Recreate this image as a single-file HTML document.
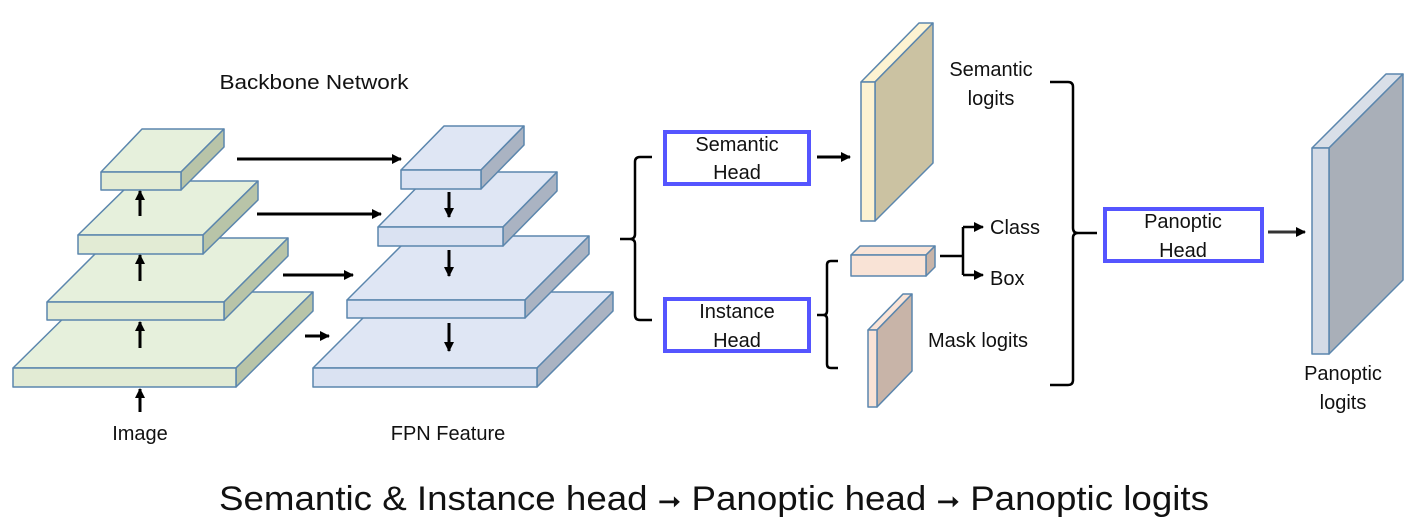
<!DOCTYPE html>
<html><head><meta charset="utf-8"><style>
html,body{margin:0;padding:0;background:#fff;}
svg{display:block;}
text{font-family:"Liberation Sans",sans-serif;fill:#111;}
.c{font-family:"DejaVu Sans","Liberation Sans",sans-serif;}
</style></head><body>
<svg width="1427" height="527" viewBox="0 0 1427 527" xmlns="http://www.w3.org/2000/svg">
<defs>
<marker id="ah" markerWidth="10" markerHeight="10" refX="9" refY="5" orient="auto" markerUnits="userSpaceOnUse">
<path d="M0,0 L10,5 L0,10 z" fill="#000"/></marker>
</defs>
<g stroke="#5b86ad" stroke-width="1.5" stroke-linejoin="round">
<g>
<polygon points="13,368 90,292 313,292 236,368" fill="#e6f0dc"/>
<polygon points="236,368 313,292 313,311 236,387" fill="#b8c4a8"/>
<rect x="13" y="368" width="223" height="19" fill="#e2ebd4"/>
</g>
<g>
<polygon points="47,302 111,238 288,238 224,302" fill="#e6f0dc"/>
<polygon points="224,302 288,238 288,256 224,320" fill="#b8c4a8"/>
<rect x="47" y="302" width="177" height="18" fill="#e2ebd4"/>
</g>
<g>
<polygon points="78,235 133,181 258,181 203,235" fill="#e6f0dc"/>
<polygon points="203,235 258,181 258,200 203,254" fill="#b8c4a8"/>
<rect x="78" y="235" width="125" height="19" fill="#e2ebd4"/>
</g>
<g>
<polygon points="101,172 142,129 224,129 181,172" fill="#e6f0dc"/>
<polygon points="181,172 224,129 224,147 181,190" fill="#b8c4a8"/>
<rect x="101" y="172" width="80" height="18" fill="#e2ebd4"/>
</g>
<g>
<polygon points="313,368 389,292 613,292 537,368" fill="#dfe6f4"/>
<polygon points="537,368 613,292 613,311 537,387" fill="#aab3c2"/>
<rect x="313" y="368" width="224" height="19" fill="#dae2f2"/>
</g>
<g>
<polygon points="347,300 411,236 589,236 525,300" fill="#dfe6f4"/>
<polygon points="525,300 589,236 589,254 525,318" fill="#aab3c2"/>
<rect x="347" y="300" width="178" height="18" fill="#dae2f2"/>
</g>
<g>
<polygon points="378,227 432,172 557,172 503,227" fill="#dfe6f4"/>
<polygon points="503,227 557,172 557,191 503,246" fill="#aab3c2"/>
<rect x="378" y="227" width="125" height="19" fill="#dae2f2"/>
</g>
<g>
<polygon points="401,170 444,126 524,126 481,170" fill="#dfe6f4"/>
<polygon points="481,170 524,126 524,145 481,189" fill="#aab3c2"/>
<rect x="401" y="170" width="80" height="19" fill="#dae2f2"/>
</g>
<polygon points="861,82 919,23 933,23 875,82" fill="#fdf3d2"/>
<polygon points="875,82 933,23 933,163 875,221" fill="#cbc2a2"/>
<rect x="861" y="82" width="14" height="139" fill="#fdf3d2"/>
<polygon points="851,255 860,246 935,246 926,255" fill="#f9e3d6"/>
<polygon points="926,255 935,246 935,267 926,276" fill="#c8b4a8"/>
<rect x="851" y="255" width="75" height="21" fill="#f9e3d6"/>
<polygon points="868,330 903,294 912,294 877,330" fill="#f9e3d6"/>
<polygon points="877,330 912,294 912,371 877,407" fill="#c8b4a8"/>
<rect x="868" y="330" width="9" height="77" fill="#f9e3d6"/>
<polygon points="1312,148 1386,74 1403,74 1329,148" fill="#d9dfe8"/>
<polygon points="1329,148 1403,74 1403,280 1329,354" fill="#a9afb8"/>
<rect x="1312" y="148" width="17" height="206" fill="#d4dbe6"/>
</g>
<g stroke="#000" stroke-width="3" fill="none" marker-end="url(#ah)">
<line x1="237" y1="159" x2="401" y2="159"/>
<line x1="257" y1="214" x2="381" y2="214"/>
<line x1="283" y1="275" x2="353" y2="275"/>
<line x1="305" y1="336" x2="329" y2="336"/>
<line x1="140" y1="216" x2="140" y2="191"/>
<line x1="140" y1="281" x2="140" y2="255"/>
<line x1="140" y1="348" x2="140" y2="322"/>
<line x1="140" y1="412" x2="140" y2="389"/>
<line x1="449" y1="192" x2="449" y2="217"/>
<line x1="449" y1="250" x2="449" y2="276"/>
<line x1="449" y1="323" x2="449" y2="351"/>
<line x1="817" y1="157" x2="850" y2="157"/>
<line x1="963" y1="227" x2="983" y2="227" stroke-width="2.5"/>
<line x1="963" y1="275" x2="983" y2="275" stroke-width="2.5"/>
<line x1="1268" y1="232" x2="1305" y2="232" stroke="#333"/>
</g>
<g stroke="#000" stroke-width="2.5" fill="none">
<path d="M652,157 H640 Q635,157 635,162 V234 Q635,239 630,239 H620 M630,239 Q635,239 635,244 V315 Q635,320 640,320 H652"/>
<path d="M838,261 H831 Q827,261 827,265 V311 Q827,315 823,315 H817 M823,315 Q827,315 827,319 V364 Q827,368 831,368 H838"/>
<path d="M940,256 H963 M963,227 V275"/>
<path d="M1050,82 H1068 Q1073,82 1073,87 V228 Q1073,233 1078,233 H1097 M1078,233 Q1073,233 1073,238 V380 Q1073,385 1068,385 H1050"/>
</g>
<g fill="#fff" stroke="#5555ff" stroke-width="4">
<rect x="665" y="132" width="144" height="52"/>
<rect x="665" y="299" width="144" height="52"/>
<rect x="1105" y="209" width="157" height="52"/>
</g>
<g font-size="20" text-anchor="middle">
<text x="737" y="151">Semantic</text>
<text x="737" y="179">Head</text>
<text x="737" y="318">Instance</text>
<text x="737" y="347">Head</text>
<text x="1183" y="228">Panoptic</text>
<text x="1183" y="257">Head</text>
<text x="991" y="76">Semantic</text>
<text x="991" y="105">logits</text>
<text x="1343" y="380">Panoptic</text>
<text x="1343" y="409">logits</text>
<text x="314" y="89" textLength="189" lengthAdjust="spacingAndGlyphs">Backbone Network</text>
<text x="140" y="440">Image</text>
<text x="448" y="440">FPN Feature</text>
</g>
<g font-size="20">
<text x="990" y="234">Class</text>
<text x="990" y="285">Box</text>
<text x="928" y="347">Mask logits</text>
</g>
<text x="714" y="510" font-size="34" text-anchor="middle" textLength="990" lengthAdjust="spacingAndGlyphs">Semantic &amp; Instance head <tspan class="c" font-size="26">➞</tspan> Panoptic head <tspan class="c" font-size="26">➞</tspan> Panoptic logits</text>
</svg>
</body></html>
